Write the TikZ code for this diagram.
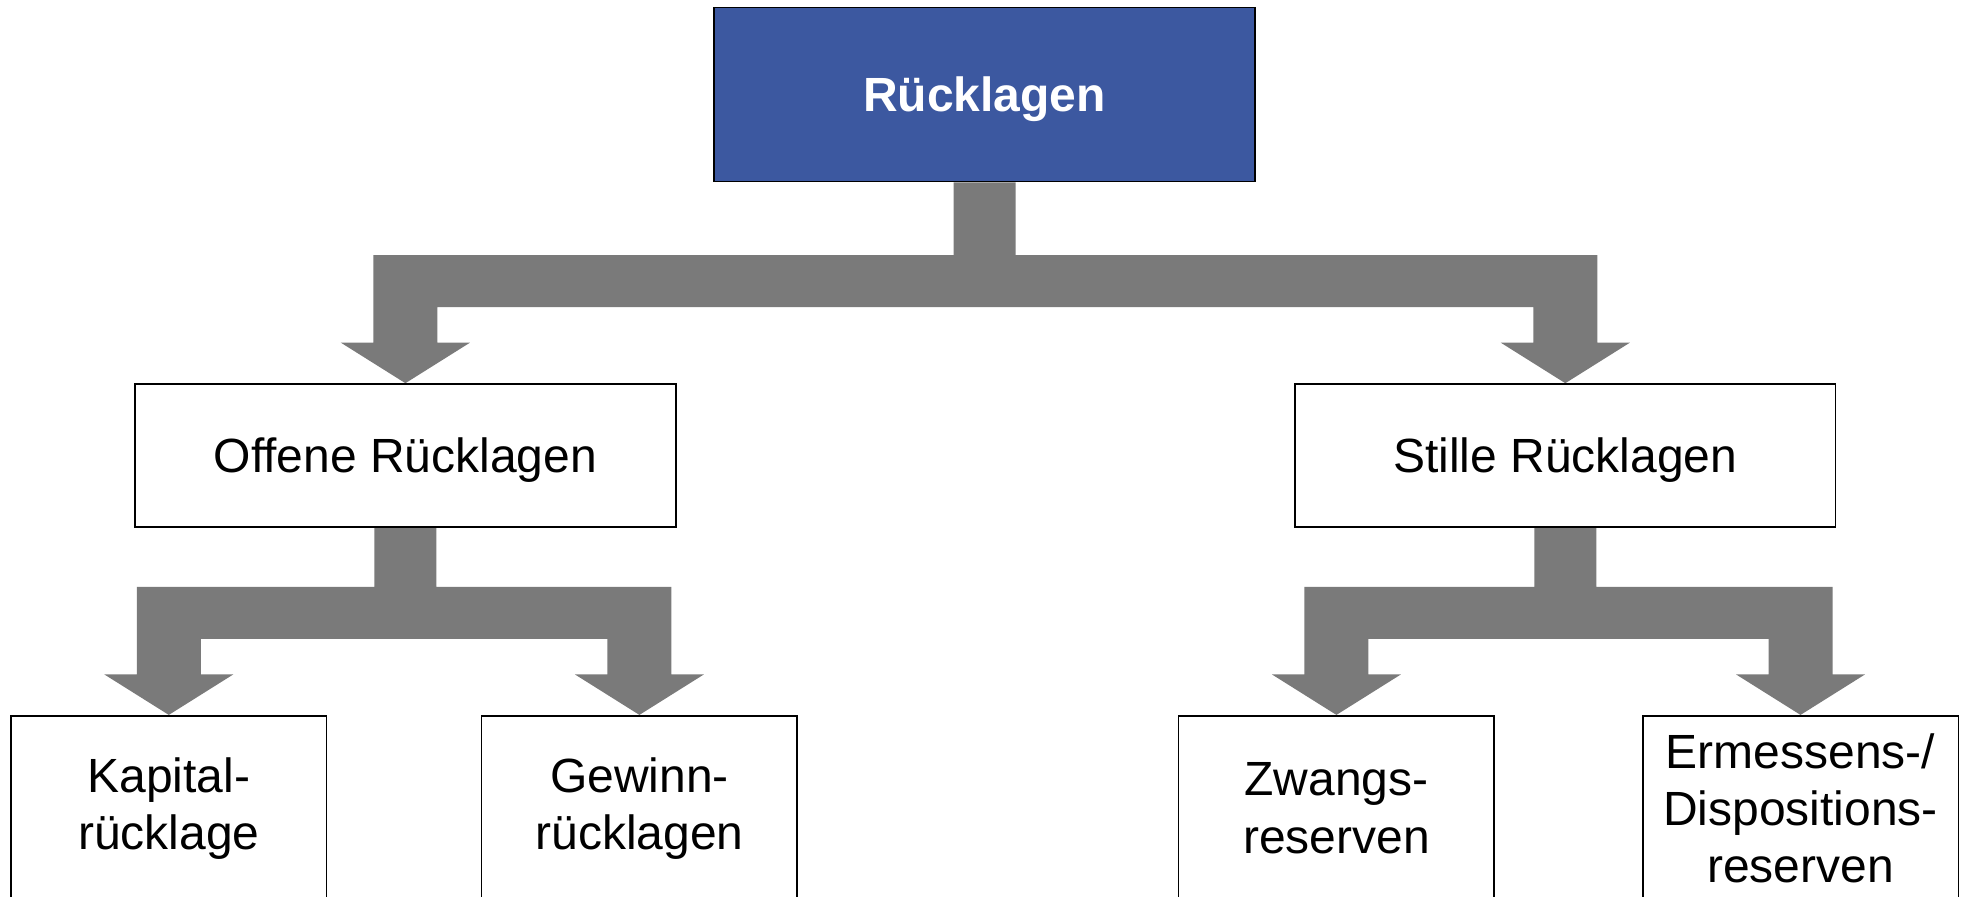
\documentclass[tikz,border=0pt]{standalone}
\usepackage{fontspec}
\setmainfont{Liberation Sans}
\usetikzlibrary{calc,backgrounds}
\definecolor{headblue}{RGB}{60,88,160}
\definecolor{forkgrey}{RGB}{122,122,122}
\tikzset{
    orgchart/.style={
        x=0.5pt, y=-0.5pt,
        % Stile per le caselle
        box/.style={draw, rectangle, fill=white, align=center,
                    line width=0.8pt, inner sep=2pt,
                    font=\fontsize{24}{28.5}\selectfont},
        headbox/.style={box, fill=headblue, text=white, text depth=0pt,
                        font=\fontsize{24}{28.5}\selectfont\bfseries,
                        minimum width=270.5pt, minimum height=87pt},
        midbox/.style={box, text depth=0pt,
                       minimum width=270.35pt, minimum height=71.5pt},
        leafbox/.style={box, minimum width=157.8pt, minimum height=92.5pt}
    }
}
% freccia a forchetta: #1 genitore, #2 figlio sinistro, #3 figlio destro
\newcommand{\forkarrow}[3]{%
    \fill[forkgrey] let \p1=(#1.south), \p2=(#2.north), \p3=(#3.north) in
        (\x1-15.5pt,\y1) -- (\x1-15.5pt,\y2+64pt) -- (\x2-16pt,\y2+64pt)
        -- (\x2-16pt,\y2+20.25pt) -- (\x2-32.25pt,\y2+20.25pt) -- (\x2,\y2)
        -- (\x2+32.25pt,\y2+20.25pt) -- (\x2+16pt,\y2+20.25pt)
        -- (\x2+16pt,\y2+38pt) -- (\x3-16pt,\y3+38pt)
        -- (\x3-16pt,\y3+20.25pt) -- (\x3-32.25pt,\y3+20.25pt) -- (\x3,\y3)
        -- (\x3+32.25pt,\y3+20.25pt) -- (\x3+16pt,\y3+20.25pt)
        -- (\x3+16pt,\y3+64pt) -- (\x1+15.5pt,\y3+64pt) -- (\x1+15.5pt,\y1)
        -- cycle;%
}
\begin{document}
\begin{tikzpicture}[orgchart]
    \useasboundingbox (0,0) rectangle (1962,896);
    \node[headbox] (ruecklagen) at (984.5,94.5) {Rücklagen};
    \node[midbox] (offene) at (405.4,455.5) {Offene Rücklagen};
    \node[midbox] (stille) at (1565.3,455.5) {Stille Rücklagen};
    \node[leafbox] (kapital) at (168.8,808.2) {Kapital-\\rücklage};
    \node[leafbox] (gewinn) at (639.4,808.2) {Gewinn-\\rücklagen};
    \node[leafbox] (zwang) at (1336.4,808.2) {Zwangs-\\reserven};
    \node[leafbox] (ermessen) at (1800.5,808.2) {Ermessens-/\\Dispositions-\\reserven};
    \begin{scope}[on background layer]
        \forkarrow{ruecklagen}{offene}{stille}
        \forkarrow{offene}{kapital}{gewinn}
        \forkarrow{stille}{zwang}{ermessen}
    \end{scope}
\end{tikzpicture}
\end{document}
